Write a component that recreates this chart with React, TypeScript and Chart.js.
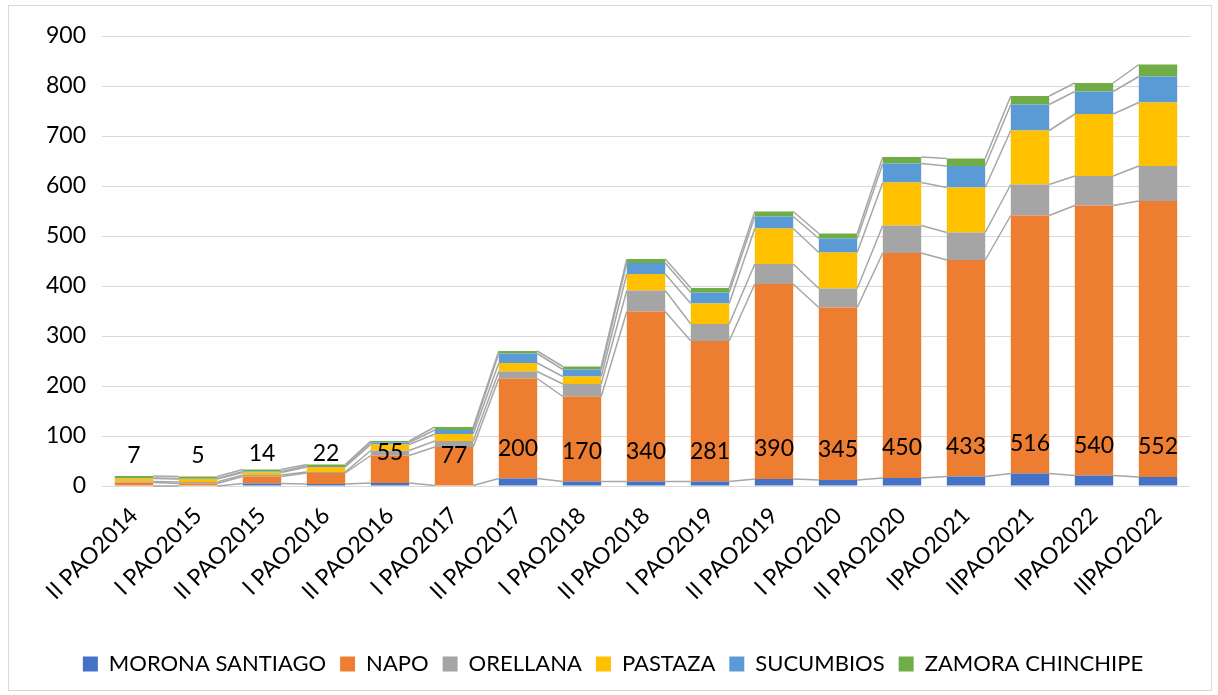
import { useEffect, useRef } from "react";
import { Chart, registerables } from "chart.js";

Chart.register(...registerables);

const categories = [
  "II PAO2014", "I PAO2015", "II PAO2015", "I PAO2016", "II PAO2016", "I PAO2017",
  "II PAO2017", "I PAO2018", "II PAO2018", "I PAO2019", "II PAO2019", "I PAO2020",
  "II PAO2020", "IPAO2021", "IIPAO2021", "IPAO2022", "IIPAO2022",
];
const moronaSantiago = [0, 0, 5, 4, 6, 1, 15, 9, 9, 9, 14, 12, 16, 19, 25, 21, 18];
const napo = [7, 5, 14, 22, 55, 77, 200, 170, 340, 281, 390, 345, 450, 433, 516, 540, 552];
const orellana = [2, 3, 3, 2, 10, 12, 14, 25, 42, 34, 40, 38, 55, 55, 62, 59, 70];
const pastaza = [6, 6, 5, 10, 12, 14, 17, 15, 33, 41, 71, 72, 86, 90, 108, 124, 127];
const sucumbios = [1, 1, 2, 2, 4, 8, 19, 14, 22, 22, 24, 28, 38, 43, 52, 45, 52];
const zamoraChinchipe = [4, 4, 4, 3, 3, 6, 5, 6, 8, 9, 10, 10, 13, 15, 17, 17, 24];
const yTicks = [0, 100, 200, 300, 400, 500, 600, 700, 800, 900];

const FONT = "Lato, 'Noto Sans', sans-serif";

const seriesLinesPlugin = {
  id: "seriesLines",
  afterDatasetsDraw(chart: any) {
    const ctx = chart.ctx;
    ctx.save();
    ctx.strokeStyle = "#a6a6a6";
    ctx.lineWidth = 1.5;
    chart.data.datasets.forEach((_: any, k: number) => {
      const meta = chart.getDatasetMeta(k);
      for (let i = 0; i < meta.data.length - 1; i++) {
        const a = meta.data[i].getProps(["x", "y", "width"], true);
        const b = meta.data[i + 1].getProps(["x", "y", "width"], true);
        ctx.beginPath();
        ctx.moveTo(a.x + a.width / 2, a.y);
        ctx.lineTo(b.x - b.width / 2, b.y);
        ctx.stroke();
      }
    });
    ctx.restore();
  },
};

const napoLabelsPlugin = {
  id: "napoLabels",
  afterDatasetsDraw(chart: any) {
    const ctx = chart.ctx;
    const meta = chart.getDatasetMeta(1);
    const yScale = chart.scales.y;
    ctx.save();
    ctx.font = `23px ${FONT}`;
    ctx.fillStyle = "#000000";
    ctx.textAlign = "center";
    ctx.textBaseline = "middle";
    meta.data.forEach((el: any, i: number) => {
      const y = yScale.getPixelForValue(moronaSantiago[i]) - 30;
      ctx.fillText(String(napo[i]), el.x, y);
    });
    ctx.restore();
  },
};

const legendShiftPlugin = {
  id: "legendShift",
  afterLayout(chart: any) {
    if (chart.legend) {
      chart.legend.left += 18;
      chart.legend.right += 18;
    }
  },
};

export default function App() {
  const ref = useRef<HTMLCanvasElement>(null);
  useEffect(() => {
    document.body.style.margin = "0";
    const canvas = ref.current!;
    const mk = (label: string, data: number[], color: string) => ({
      label,
      data,
      backgroundColor: color,
      borderWidth: 0,
      categoryPercentage: 1,
      barPercentage: 0.6,
    });
    const chart = new Chart(canvas, {
      type: "bar",
      data: {
        labels: categories,
        datasets: [
          mk("MORONA SANTIAGO", moronaSantiago, "#4472C4"),
          mk("NAPO", napo, "#ED7D31"),
          mk("ORELLANA", orellana, "#A5A5A5"),
          mk("PASTAZA", pastaza, "#FFC000"),
          mk("SUCUMBIOS", sucumbios, "#5B9BD5"),
          mk("ZAMORA CHINCHIPE", zamoraChinchipe, "#70AD47"),
        ],
      },
      options: {
        responsive: false,
        animation: false,
        devicePixelRatio: 1,
        layout: { padding: { left: 0, right: 28, top: 36, bottom: 10 } },
        plugins: {
          tooltip: { enabled: false },
          legend: {
            position: "bottom",
            labels: {
              font: { family: FONT, size: 22 },
              color: "#000000",
              boxWidth: 15,
              boxHeight: 15,
              padding: 14,
            },
          },
        },
        scales: {
          x: {
            stacked: true,
            grid: { display: false },
            border: { display: false },
            ticks: {
              minRotation: 45,
              maxRotation: 45,
              font: { family: FONT, size: 23 },
              color: "#000000",
              padding: 8,
            },
            afterFit(scale: any) {
              scale.height = 153;
            },
          },
          y: {
            stacked: true,
            min: 0,
            max: 900,
            afterBuildTicks(scale: any) {
              scale.ticks = yTicks.map((v) => ({ value: v }));
            },
            grid: { color: "#d9d9d9", lineWidth: 1, drawTicks: false },
            border: { display: false },
            ticks: {
              font: { family: FONT, size: 23 },
              color: "#000000",
              padding: 16,
            },
            afterFit(scale: any) {
              scale.width = 102;
            },
          },
        },
      },
      plugins: [seriesLinesPlugin, napoLabelsPlugin, legendShiftPlugin],
    });
    return () => chart.destroy();
  }, []);
  return (
    <div style={{ position: "relative", width: 1218, height: 695, background: "#ffffff" }}>
      <div
        style={{
          position: "absolute",
          left: 8,
          top: 5,
          width: 1204,
          height: 686,
          border: "1px solid #d9d9d9",
          boxSizing: "border-box",
        }}
      />
      <canvas ref={ref} width={1218} height={695} style={{ position: "absolute", left: 0, top: 0 }} />
    </div>
  );
}
